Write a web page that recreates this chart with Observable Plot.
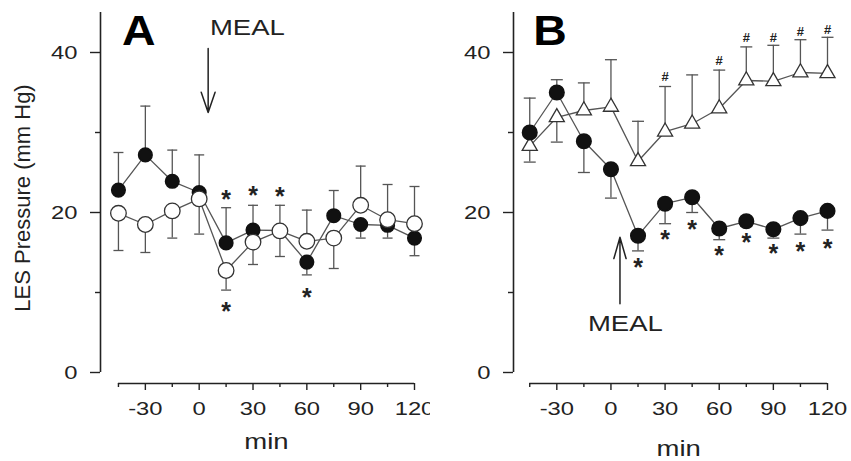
<!DOCTYPE html>
<html><head><meta charset="utf-8">
<script src="https://cdn.jsdelivr.net/npm/d3@7"></script>
<script src="https://cdn.jsdelivr.net/npm/@observablehq/plot@0.6"></script>
<style>
body{margin:0;background:#fff;}
#wrap{display:flex;width:851px;height:461px;overflow:hidden;}
</style></head><body><div id="wrap"></div>
<script>
// ---- data ----
const minutes = [-45,-30,-15,0,15,30,45,60,75,90,105,120];
// Panel A
const aFilled    = [22.8,27.2,23.9,22.5,16.2,17.8,17.75,13.8,19.6,18.5,18.4,16.8];
const aFilledErr = [27.5,33.3,27.8,27.2,20.6,20.9,20.9,12.2,22.75,16.8,16.8,14.6];
const aOpen      = [19.9,18.5,20.2,21.7,12.75,16.3,17.7,16.4,16.8,20.9,19.1,18.6];
const aOpenErr   = [15.25,15.0,16.8,17.3,10.3,13.5,14.5,20.3,13.0,25.8,23.5,23.25];
const aStarMin   = [15,15,30,45,60];
const aStarVal   = [22.25,8.2,22.75,22.6,10];
// Panel B
const bFilled    = [30.0,35.0,28.9,25.4,17.1,21.1,21.9,18.0,18.9,17.9,19.3,20.2];
const bFilledErr = [34.3,36.6,25.0,21.8,15.2,18.6,20.0,16.6,18.3,16.8,17.3,17.8];
const bTri       = [28.3,31.9,32.75,33.2,26.4,30.1,31.1,33.0,36.5,36.4,37.5,37.4];
const bTriErr    = [26.3,28.8,36.2,39.1,31.4,35.75,37.2,37.8,40.7,40.9,41.6,41.9];
const bStarMin   = [15,30,45,60,75,90,105,120];
const bStarVal   = [13.7,17.2,18.5,15.25,16.8,15.5,15.7,16.1];
const bHashMin   = [30,60,75,90,105,120];
const bHashVal   = [36.9,38.9,41.8,41.8,42.6,42.8];
// ticks
const yMajor = [0,20,40];
const yMinor = [10,30];
const xMajor = [-30,0,30,60,90,120];
const xMinor = [-45,-15,15,45,75,105];
const yLabel = "LES Pressure (mm Hg)";
const xLabel = "min";
const mealText = "MEAL";

// ---- helpers ----
const cap = {draw(ctx, size){ const w = Math.sqrt(size/Math.PI); ctx.moveTo(-w,0); ctx.lineTo(w,0); }};
const INK = "#222", LINE = "#555";
const FONT = "'Liberation Sans', Arial, Helvetica, sans-serif";
const fmt = d => String(d);

function axes(xDomain){
  return [
    Plot.ruleX([xDomain[0]], {y1: 0, y2: 45, stroke: INK, strokeWidth: 1.6}),
    Plot.ruleY([-1.375], {x1: -45, x2: 120, stroke: INK, strokeWidth: 1.6}),
    Plot.axisY(yMajor, {tickSize: 10, tickPadding: 13, fontSize: 19, tickFormat: fmt, label: null, stroke: INK, strokeWidth: 1.4}),
    Plot.axisY(yMinor, {tickSize: 5, tickFormat: () => "", label: null, stroke: INK, strokeWidth: 1.4}),
    Plot.axisX(xMajor, {tickSize: 7, tickPadding: 11, fontSize: 19, tickFormat: fmt, label: null, stroke: INK, strokeWidth: 1.4}),
    Plot.axisX(xMinor, {tickSize: 4, tickFormat: () => "", label: null, stroke: INK, strokeWidth: 1.4})
  ];
}

function panel({width, marginLeft, marginRight, xDomain, marks}){
  return Plot.plot({
    width, height: 461, marginTop: 12, marginBottom: 78, marginLeft, marginRight,
    style: {fontFamily: FONT, color: INK, background: "#fff", overflow: "visible"},
    x: {domain: xDomain},
    y: {domain: [-1.375, 45]},
    marks: [...axes(xDomain), ...marks]
  });
}

// ---- panel A ----
const aRows = minutes.map((m,i) => ({m, f: aFilled[i], fe: aFilledErr[i], o: aOpen[i], oe: aOpenErr[i]}));
const aStars = aStarMin.map((m,i) => ({m, v: aStarVal[i]}));
const chartA = panel({
  width: 430, marginLeft: 100, marginRight: 16, xDomain: [-55, 120],
  marks: [
    Plot.ruleX(aRows, {x: "m", y1: "f", y2: "fe", stroke: LINE, strokeWidth: 1.3}),
    Plot.dot(aRows, {x: "m", y: "fe", symbol: cap, r: 5, stroke: LINE, strokeWidth: 1.3}),
    Plot.ruleX(aRows, {x: "m", y1: "o", y2: "oe", stroke: LINE, strokeWidth: 1.3}),
    Plot.dot(aRows, {x: "m", y: "oe", symbol: cap, r: 5, stroke: LINE, strokeWidth: 1.3}),
    Plot.line(aRows, {x: "m", y: "f", stroke: LINE, strokeWidth: 1.3}),
    Plot.line(aRows, {x: "m", y: "o", stroke: LINE, strokeWidth: 1.3}),
    Plot.dot(aRows, {x: "m", y: "f", r: 6.8, fill: "#111", stroke: "#111"}),
    Plot.dot(aRows, {x: "m", y: "o", r: 7.8, fill: "#fff", stroke: "#333", strokeWidth: 1.3}),
    Plot.text(aStars, {x: "m", y: "v", text: () => "*", fontSize: 25, fontWeight: "bold", dy: 5, fill: INK}),
    Plot.text(["A"], {x: -43, y: 41, text: d => d, textAnchor: "start", lineAnchor: "bottom", fontSize: 43, fontWeight: 900, fill: "#000"}),
    Plot.text([mealText], {x: 6, y: 43.1, text: d => d, textAnchor: "start", fontSize: 22, fill: INK}),
    Plot.arrow([{x: 5, y1: 40.5, y2: 32.5}], {x1: "x", x2: "x", y1: "y1", y2: "y2", headLength: 25, headAngle: 38, stroke: INK, strokeWidth: 1.5}),
    Plot.text([xLabel], {x: 37.5, frameAnchor: "bottom", dy: 65, text: d => d, fontSize: 22, fill: INK}),
    Plot.text([yLabel], {frameAnchor: "left", textAnchor: "middle", rotate: -90, dx: -78, text: d => d, fontSize: 22, fill: INK})
  ]
});

// ---- panel B ----
const bRows = minutes.map((m,i) => ({m, f: bFilled[i], fe: bFilledErr[i], t: bTri[i], te: bTriErr[i]}));
const bStars = bStarMin.map((m,i) => ({m, v: bStarVal[i]}));
const bHash = bHashMin.map((m,i) => ({m, v: bHashVal[i]}));
const chartB = panel({
  width: 421, marginLeft: 83, marginRight: 24, xDomain: [-54, 120],
  marks: [
    Plot.ruleX(bRows, {x: "m", y1: "t", y2: "te", stroke: LINE, strokeWidth: 1.3}),
    Plot.dot(bRows, {x: "m", y: "te", symbol: cap, r: 6, stroke: LINE, strokeWidth: 1.3}),
    Plot.ruleX(bRows, {x: "m", y1: "f", y2: "fe", stroke: LINE, strokeWidth: 1.3}),
    Plot.dot(bRows, {x: "m", y: "fe", symbol: cap, r: 6, stroke: LINE, strokeWidth: 1.3}),
    Plot.line(bRows, {x: "m", y: "t", stroke: LINE, strokeWidth: 1.3}),
    Plot.line(bRows, {x: "m", y: "f", stroke: LINE, strokeWidth: 1.3}),
    Plot.dot(bRows, {x: "m", y: "t", symbol: "triangle", r: 5.6, fill: "#fff", stroke: "#333", strokeWidth: 1.3}),
    Plot.dot(bRows, {x: "m", y: "f", r: 7.3, fill: "#111", stroke: "#111"}),
    Plot.text(bStars, {x: "m", y: "v", text: () => "*", fontSize: 25, fontWeight: "bold", dy: 5, fill: INK}),
    Plot.text(bHash, {x: "m", y: "v", text: () => "#", fontSize: 13, fontWeight: "bold", fill: INK}),
    Plot.text(["B"], {x: -43, y: 41, text: d => d, textAnchor: "start", lineAnchor: "bottom", fontSize: 43, fontWeight: 900, fill: "#000"}),
    Plot.arrow([{x: 5, y1: 8.6, y2: 16.9}], {x1: "x", x2: "x", y1: "y1", y2: "y2", headLength: 26, headAngle: 32, stroke: INK, strokeWidth: 1.5}),
    Plot.text([mealText], {x: 8, y: 6.1, text: d => d, fontSize: 22, fill: INK}),
    Plot.text([xLabel], {x: 37.5, frameAnchor: "bottom", dy: 72, text: d => d, fontSize: 22, fill: INK})
  ]
});

// the reference's lettering is horizontally broad: stretch labels around their anchor
function widen(t, s){
  const tr = t.getAttribute("transform");
  if (tr) { t.setAttribute("transform", tr + ` scale(${s},1)`); return; }
  const x = +t.getAttribute("x") || 0, y = +t.getAttribute("y") || 0;
  t.removeAttribute("x"); t.removeAttribute("y");
  t.setAttribute("transform", `translate(${x},${y}) scale(${s},1)`);
}
for (const chart of [chartA, chartB]) {
  chart.querySelectorAll("text").forEach(t => {
    const s = t.textContent;
    if (s === mealText || s === xLabel || /^-?\d+$/.test(s)) widen(t, 1.25);
    else if (s === "A" || s === "B") widen(t, 1.08);
  });
}

document.getElementById("wrap").append(chartA, chartB);
</script></body></html>
